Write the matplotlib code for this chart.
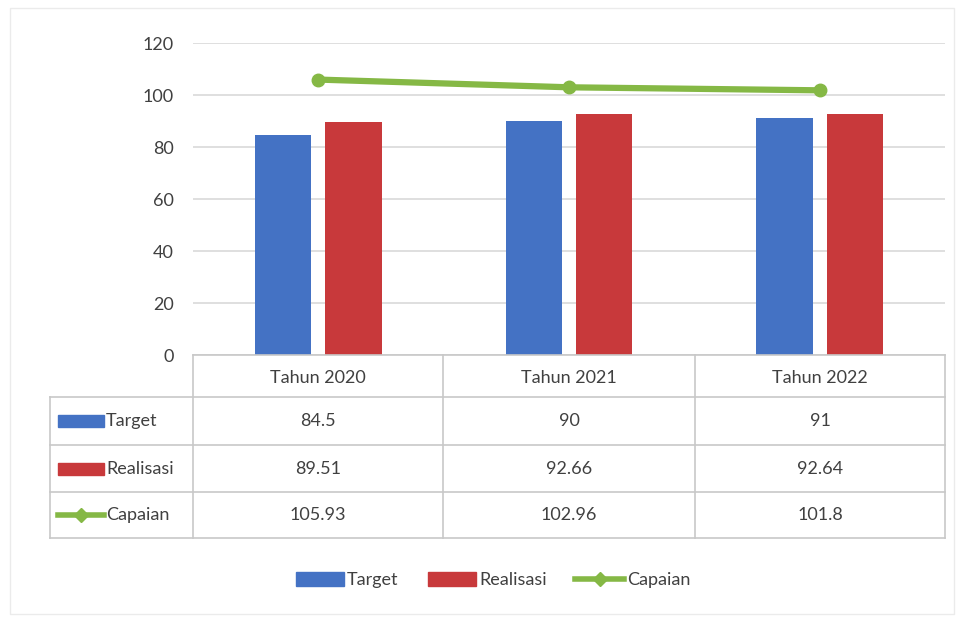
import matplotlib
matplotlib.use("Agg")
import matplotlib.pyplot as plt
from matplotlib.patches import Rectangle
from matplotlib.lines import Line2D
import numpy as np

categories = ["Tahun 2020", "Tahun 2021", "Tahun 2022"]
target = [84.5, 90, 91]
realisasi = [89.51, 92.66, 92.64]
capaian = [105.93, 102.96, 101.8]
series_names = ["Target", "Realisasi", "Capaian"]
yticks = [0, 20, 40, 60, 80, 100, 120]

BLUE = "#4472C4"
RED = "#C8393B"
GREEN = "#85B845"
GRID = "#D9D9D9"
TXT = "#404040"

plt.rcParams['font.family'] = ['Lato', 'DejaVu Sans']

W, H = 959, 621
fig = plt.figure(figsize=(W / 100, H / 100), dpi=100)

def fx(px):
    return px / W

def fy(py):
    return 1 - py / H

# main plot
ax = fig.add_axes([fx(193), fy(355), fx(945) - fx(193), fy(43) - fy(355)])
x = np.arange(len(categories))
bw = 0.224
gap = 0.056
ax.bar(x - (bw + gap) / 2, target, bw, color=BLUE, zorder=3)
ax.bar(x + (bw + gap) / 2, realisasi, bw, color=RED, zorder=3)
ax.plot(x, capaian, color=GREEN, lw=4.5, marker="o", ms=9, zorder=4)
ax.set_xlim(-0.5, len(categories) - 0.5)
ax.set_ylim(0, 120)
ax.set_yticks(yticks)
ax.set_yticklabels([str(t) for t in yticks], fontsize=13, color=TXT)
ax.yaxis.grid(True, color=GRID, lw=1.2)
ax.set_axisbelow(True)
ax.set_xticks([])
for s in ax.spines.values():
    s.set_visible(False)
ax.tick_params(axis="y", length=0, pad=14)

# overlay for data table
ov = fig.add_axes([0, 0, 1, 1])
ov.set_xlim(0, W)
ov.set_ylim(H, 0)
ov.axis("off")
ov.patch.set_alpha(0)

LINE = "#C8C8C8"
col_edges = [193, 443, 695, 945]
row_edges = [355, 397, 445, 492, 538]
ov.plot([193, 945], [355, 355], color=LINE, lw=1.2)
for ry in row_edges[1:]:
    ov.plot([50, 945], [ry, ry], color=LINE, lw=1.2)
ov.plot([50, 50], [397, 538], color=LINE, lw=1.2)
for cx in col_edges:
    ov.plot([cx, cx], [355, 538], color=LINE, lw=1.2)

for i, c in enumerate(categories):
    xc = (col_edges[i] + col_edges[i + 1]) / 2
    ov.text(xc, 378, c, ha="center", va="center", fontsize=13, color=TXT)

rows = [target, realisasi, capaian]
for r, vals in enumerate(rows):
    yc = (row_edges[r + 1] + row_edges[r + 2]) / 2
    for i, v in enumerate(vals):
        xc = (col_edges[i] + col_edges[i + 1]) / 2
        ov.text(xc, yc, f"{v:g}", ha="center", va="center", fontsize=13, color=TXT)
    if r < 2:
        ov.add_patch(Rectangle((58, yc - 6), 46, 12, color=[BLUE, RED][r]))
    else:
        ov.plot([58, 104], [yc, yc], color=GREEN, lw=4)
        ov.plot([81], [yc], marker="D", ms=7, color=GREEN)
    ov.text(106, yc, series_names[r], ha="left", va="center", fontsize=13, color=TXT)

ov.add_patch(Rectangle((10, 8), 944, 606, fill=False, edgecolor="#EBEBEB", lw=1))

handles = [
    Rectangle((0, 0), 1, 1, color=BLUE),
    Rectangle((0, 0), 1, 1, color=RED),
    Line2D([0], [0], color=GREEN, lw=4, marker="D", ms=7),
]
fig.legend(handles, series_names, loc="center", bbox_to_anchor=(fx(493), fy(580)),
           ncol=3, frameon=False, fontsize=13, handlelength=2.7, handleheight=0.8,
           handletextpad=0.15, columnspacing=1.6, labelcolor=TXT)

fig.savefig("out.png", dpi=100, facecolor="white")
